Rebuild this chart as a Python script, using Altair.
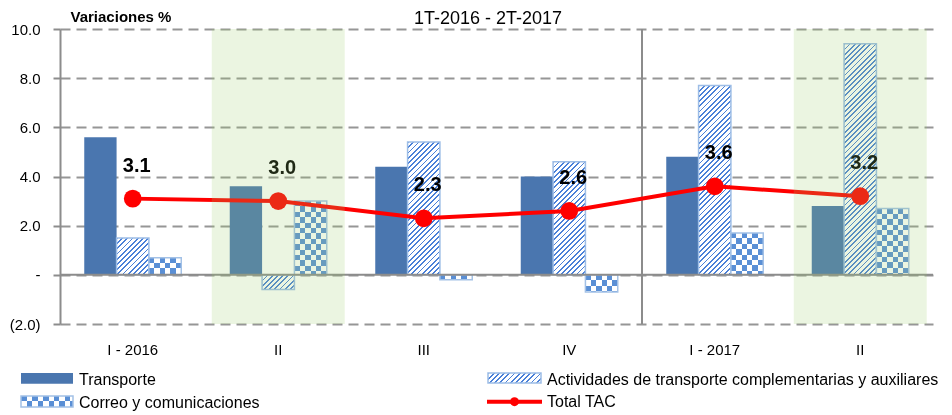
import altair as alt
import pandas as pd

# ---------------- data ----------------
quarters = ["I - 2016", "II", "III", "IV", "I - 2017", "II"]
series_names = ["Transporte",
                "Actividades de transporte complementarias y auxiliares",
                "Correo y comunicaciones"]
transporte = [5.6, 3.6, 4.4, 4.0, 4.8, 2.8]
actividades = [1.5, -0.6, 5.4, 4.6, 7.7, 9.4]
correo = [0.7, 3.0, -0.2, -0.7, 1.7, 2.7]
total_name = "Total TAC"
total_tac = [3.1, 3.0, 2.3, 2.6, 3.6, 3.2]
y_ticks = [-2, 0, 2, 4, 6, 8, 10]
chart_title = "1T-2016 - 2T-2017"
y_title = "Variaciones %"
highlight_quarter = "II"
new_year_label = "2017"

# ---------------- layout / style ----------------
W, H = 873, 295
PAD = {"left": 52, "top": 21, "right": 11, "bottom": 87}
FONT = "Liberation Sans"
PPU = H / (y_ticks[-1] - y_ticks[0])
STEP = W / len(quarters)
GROUP = STEP * 2 / 3
BAR_W = GROUP / len(series_names)

BLUE_T = "#4A76AF"
HATCH_BLUE = "#4A80D8"
HATCH_EDGE = "#9DBDE6"
CHECK_BLUE = "#5A8FD5"
CHECK_EDGE = "#A3C1E6"
GRID = "#969696"
AXIS = "#8C8C8C"
RED = "#FF0000"
SHADE = "#9BCD69"
HATCH_P = 5.2
CHECK_S = BAR_W / 6

keys = [f"{i}|{q}" for i, q in enumerate(quarters)]
wide = pd.DataFrame({
    "key": keys,
    "value": total_tac,
    "shade": [q == highlight_quarter for q in quarters],
})
long = pd.DataFrame({
    "key": keys * 3,
    "serie": [s for s in series_names for _ in keys],
    "value": transporte + actividades + correo,
})
long_t = long[long.serie == series_names[0]]
long_a = long[long.serie == series_names[1]]
long_c = long[long.serie == series_names[2]]
year_idx = next(i for i, q in enumerate(quarters) if new_year_label in q)


def repeating_stops(segments, length):
    stops, pos, i = [], 0.0, 0
    while pos < length - 1e-9:
        color, seg = segments[i % len(segments)]
        end = min(pos + seg, length)
        stops.append({"color": color, "offset": round(pos / length, 5)})
        stops.append({"color": color, "offset": round(end / length, 5)})
        pos = end
        i += 1
    return stops


def hatch_fill(w, h):
    L = w + h
    d = w * w + h * h
    return {"gradient": "linear", "x1": 0, "y1": 0,
            "x2": round(w * L / d, 5), "y2": round(h * L / d, 5),
            "stops": repeating_stops([(HATCH_BLUE, HATCH_P * 0.35), ("#FFFFFF", HATCH_P * 0.65)], L)}


def rows_fill(h, s=CHECK_S):
    return {"gradient": "linear", "x1": 0, "y1": 0, "x2": 0, "y2": 1,
            "stops": repeating_stops([("#000000", s), ("#FFFFFF", s)], h)}


def cols_fill(w, s=CHECK_S):
    return {"gradient": "linear", "x1": 0, "y1": 0, "x2": 1, "y2": 0,
            "stops": repeating_stops([("#000000", s), ("#FFFFFF", s)], w)}


def x_enc(**kw):
    return alt.X("key:N", sort=keys,
                 scale=alt.Scale(domain=keys, paddingInner=1 / 3, paddingOuter=1 / 6),
                 axis=alt.Axis(title=None, labelExpr="split(datum.value, '|')[1]",
                               domain=False, ticks=False, tickSize=0, grid=False,
                               labelAngle=0, labelPadding=18, labelFont=FONT,
                               labelFontSize=15, labelColor="#000000"), **kw)


xo_enc = alt.XOffset("serie:N", sort=series_names, scale=alt.Scale(domain=series_names))

y_label_expr = ("datum.value == 0 ? '-\u2007\u2007' : (datum.value < 0 ? '(' + format(-datum.value, '.1f') + ')'"
                " : format(datum.value, '.1f'))")
y_enc = alt.Y("value:Q",
              scale=alt.Scale(domain=[y_ticks[0], y_ticks[-1]], nice=False, zero=False),
              axis=alt.Axis(values=y_ticks, labelExpr=y_label_expr, title=y_title,
                            titleAngle=0, titleX=10, titleY=-8, titleAlign="left",
                            titleBaseline="alphabetic", titleFont=FONT, titleFontSize=15,
                            titleFontWeight="bold", titleColor="#000000",
                            labelFont=FONT, labelFontSize=15, labelColor="#000000",
                            labelPadding=13, tickSize=7, tickColor=AXIS, tickWidth=2,
                            domainColor=AXIS, domainWidth=2, grid=True, gridColor=GRID,
                            gridWidth=2, gridDash=[10, 6]))

layers = []

# Transporte
layers.append(alt.Chart(long_t).mark_bar(color=BLUE_T).encode(x=x_enc(), xOffset=xo_enc, y=y_enc))

# Actividades (hatched) - one layer per bar so each gets its own hatch geometry
for i in range(len(long_a)):
    row = long_a.iloc[[i]]
    h = max(abs(float(row.value.iloc[0])) * PPU, 1.0)
    layers.append(alt.Chart(row).mark_bar(fill=hatch_fill(BAR_W, h), stroke=HATCH_EDGE,
                                          strokeWidth=1.5)
                  .encode(x=x_enc(), xOffset=xo_enc, y=y_enc))

# Correo (checkerboard) rows, xor columns, colourise
for i in range(len(long_c)):
    row = long_c.iloc[[i]]
    h = max(abs(float(row.value.iloc[0])) * PPU, 1.0)
    layers.append(alt.Chart(row).mark_bar(fill=rows_fill(h))
                  .encode(x=x_enc(), xOffset=xo_enc, y=y_enc))
layers.append(alt.Chart(long_c).mark_bar(fill=cols_fill(BAR_W), blend="difference")
              .encode(x=x_enc(), xOffset=xo_enc, y=y_enc))
layers.append(alt.Chart(long_c).mark_bar(fill=CHECK_BLUE, blend="lighten")
              .encode(x=x_enc(), xOffset=xo_enc, y=y_enc))
layers.append(alt.Chart(long_c).mark_bar(fill="#FFFFFF", fillOpacity=0, stroke=CHECK_EDGE,
                                         strokeWidth=1.5)
              .encode(x=x_enc(), xOffset=xo_enc, y=y_enc))

# zero line and year separator
layers.append(alt.Chart(alt.Data(values=[{}])).mark_rule(color=AXIS, strokeWidth=2)
              .encode(y=alt.Y(datum=0)))
layers.append(alt.Chart(wide.iloc[[year_idx]]).mark_rule(color=AXIS, strokeWidth=2,
                                                         xOffset=-STEP / 6)
              .encode(x=x_enc(bandPosition=0), y=alt.Y(datum=y_ticks[-1]),
                      y2=alt.Y2(datum=y_ticks[0])))

# Total TAC
layers.append(alt.Chart(wide).mark_line(color=RED, strokeWidth=4).encode(x=x_enc(), y=y_enc))
layers.append(alt.Chart(wide).mark_circle(color=RED, size=314, opacity=1)
              .encode(x=x_enc(), y=y_enc))
layers.append(alt.Chart(wide).mark_text(font=FONT, fontSize=20, fontWeight="bold",
                                        color="#000000", dx=4, dy=-33)
              .encode(x=x_enc(), y=y_enc, text=alt.Text("value:Q", format=".1f")))

# shaded quarter II (translucent overlay)
layers.append(alt.Chart(wide).transform_filter("datum.shade")
              .mark_bar(color=SHADE, opacity=0.2, width=alt.RelativeBandSize(band=1.371))
              .encode(x=x_enc(), y=alt.Y(datum=y_ticks[-1]), y2=alt.Y2(datum=y_ticks[0])))

# title
layers.append(alt.Chart(alt.Data(values=[{"t": chart_title}]))
              .mark_text(font=FONT, fontSize=18, align="center", baseline="alphabetic",
                         color="#000000")
              .encode(x=alt.value(428), y=alt.value(-5), text="t:N"))

# ---------------- legend ----------------
def legend_text(name, x, y):
    return (alt.Chart(alt.Data(values=[{"name": name}]))
            .mark_text(font=FONT, fontSize=16, align="left", baseline="alphabetic",
                       color="#000000")
            .encode(x=alt.value(x), y=alt.value(y), text="name:N"))


def legend_rect(name, x, x2, y, y2, **mk):
    return (alt.Chart(alt.Data(values=[{"name": name}])).mark_rect(**mk)
            .encode(x=alt.value(x), x2=alt.value(x2), y=alt.value(y), y2=alt.value(y2)))


# Transporte
layers.append(legend_rect(series_names[0], -39, 13, 344, 354.7, color=BLUE_T))
layers.append(legend_text(series_names[0], 19, 356))
# Correo
layers.append(legend_rect(series_names[2], -39, 13, 367, 378, fill=rows_fill(11, 5.5)))
layers.append(legend_rect(series_names[2], -39, 13, 367, 378, fill=cols_fill(52, 5.5),
                          blend="difference"))
layers.append(legend_rect(series_names[2], -39, 13, 367, 378, fill=CHECK_BLUE, blend="lighten"))
layers.append(legend_rect(series_names[2], -39, 13, 367, 378, fill="#FFFFFF", fillOpacity=0,
                          stroke=CHECK_EDGE, strokeWidth=1.5))
layers.append(legend_text(series_names[2], 19, 378.5))
# Actividades
layers.append(legend_rect(series_names[1], 428, 481, 344, 354, fill=hatch_fill(53, 10),
                          stroke=HATCH_EDGE, strokeWidth=1.5))
layers.append(legend_text(series_names[1], 487, 356))
# Total TAC
layers.append(alt.Chart(alt.Data(values=[{"name": total_name}]))
              .mark_rule(color=RED, strokeWidth=4)
              .encode(x=alt.value(427), x2=alt.value(482), y=alt.value(372.7)))
layers.append(alt.Chart(alt.Data(values=[{"name": total_name}]))
              .mark_circle(color=RED, size=80, opacity=1)
              .encode(x=alt.value(454.5), y=alt.value(372.7)))
layers.append(legend_text(total_name, 487, 378.3))

chart = (alt.layer(*layers)
         .properties(width=W, height=H, padding=PAD,
                     autosize=alt.AutoSizeParams(type="none"))
         .configure_view(stroke=None))

chart.save("out.html", embed_options={"renderer": "svg", "actions": False})
